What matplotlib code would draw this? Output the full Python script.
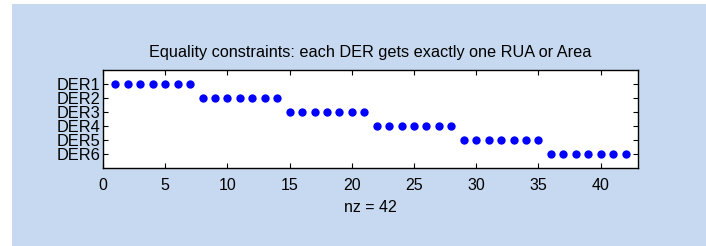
import matplotlib
matplotlib.use('Agg')
import matplotlib.pyplot as plt
from matplotlib.patches import Rectangle

# --- data: column index of each nonzero, per DER row ---
der_labels = ['DER1', 'DER2', 'DER3', 'DER4', 'DER5', 'DER6']
der_cols = [
    [1, 2, 3, 4, 5, 6, 7],
    [8, 9, 10, 11, 12, 13, 14],
    [15, 16, 17, 18, 19, 20, 21],
    [22, 23, 24, 25, 26, 27, 28],
    [29, 30, 31, 32, 33, 34, 35],
    [36, 37, 38, 39, 40, 41, 42],
]
x_ticks = [0, 5, 10, 15, 20, 25, 30, 35, 40]
n_cols = 42

plt.rcParams.update({
    'font.family': ['Liberation Sans', 'DejaVu Sans'],
})

fig = plt.figure(figsize=(7.06, 2.46), dpi=100)
fig.patch.set_facecolor('white')
# light blue panel behind the figure
fig.add_artist(Rectangle((12 / 706, 0), 1, 242 / 246, transform=fig.transFigure,
                         facecolor='#C6D9F0', edgecolor='none', zorder=-5))

ax = fig.add_axes([103 / 706, 78 / 246, 535 / 706, 98 / 246])
ax.set_zorder(1)
ax.set_facecolor('white')

rows, cols = [], []
for i, cl in enumerate(der_cols):
    rows += [i + 1] * len(cl)
    cols += cl
ax.plot(cols, rows, 'o', color='#0000FF', markersize=6, markeredgewidth=0, zorder=3)

nz = len(cols)
ax.set_xlim(0, n_cols + 1)
ax.set_ylim(len(der_labels) + 1, 0)
ax.set_xticks(x_ticks)
ax.set_yticks(range(1, len(der_labels) + 1))
ax.set_yticklabels(der_labels, fontsize=11.8)
ax.tick_params(axis='x', labelsize=11.5, pad=7)
ax.tick_params(direction='in', length=3.5, width=0.8, top=True, right=True, color='black')
ax.tick_params(axis='y', pad=2)
for s in ax.spines.values():
    s.set_linewidth(1.0)
    s.set_color('black')

ax.set_title('Equality constraints: each DER gets exactly one RUA or Area', fontsize=11.7, pad=9)
ax.set_xlabel(f'nz = {nz}', fontsize=11.5, labelpad=5)

fig.savefig('out.png', dpi=100, facecolor='white')
